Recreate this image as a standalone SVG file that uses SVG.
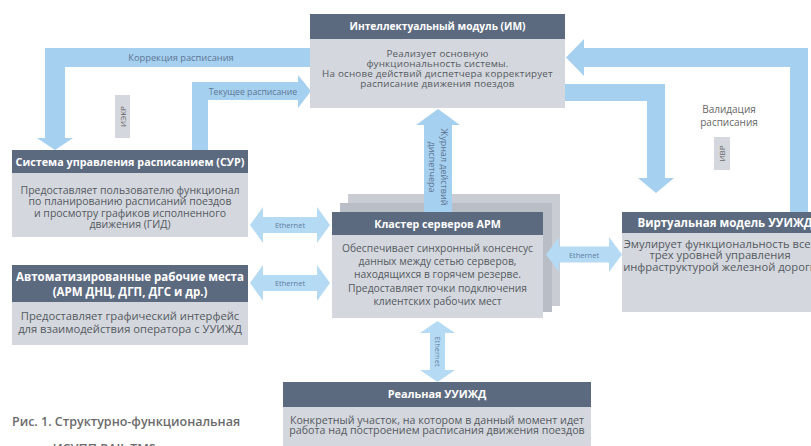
<svg xmlns="http://www.w3.org/2000/svg" width="811" height="446" viewBox="0 0 811 446">
<style>
.hdr{fill:#5c6a7f}
.bd{fill:#d4d7dd}
.ht{font-family:'Open Sans','Noto Sans',sans-serif;font-weight:bold;font-size:10.8px;fill:#fff;text-anchor:middle}
.bt{font-family:'Open Sans','Noto Sans',sans-serif;font-size:10.5px;fill:#555a61;text-anchor:middle}
.arr{fill:#a6d0ef}
.eth{fill:#b5daf3}
.lbl{font-family:'Open Sans','Noto Sans',sans-serif;font-size:9px;fill:#5d7593;text-anchor:middle}
.elbl{font-family:'Open Sans','Noto Sans',sans-serif;font-size:7.5px;fill:#5d7ea3;text-anchor:middle}
.tag{fill:#d4d7dd}
.tagt{font-family:'Open Sans','Noto Sans',sans-serif;font-size:8px;fill:#666;text-anchor:middle}
.cap{font-family:'Open Sans','Noto Sans',sans-serif;font-weight:600;font-size:12.5px;fill:#6b6b6b}
.imt{font-size:9.8px;letter-spacing:0.2px}
</style>
<rect width="811" height="446" fill="#fff"/>
<g id="cluster">
  <rect x="348" y="194" width="212" height="112" fill="#c9ccd2"/>
  <rect x="340" y="203" width="212" height="109" fill="#b9bdc5"/>
  <rect class="bd" x="332" y="235" width="211" height="83"/>
  <rect class="hdr" x="332" y="212" width="211" height="23"/>
  <text class="ht" x="437.5" y="227.5" style="font-size:10.7px">Кластер серверов АРМ</text>
  <text class="bt" x="437.5" y="251.5" style="font-size:10.3px">Обеспечивает синхронный консенсус</text>
  <text class="bt" x="437.5" y="265" style="font-size:10.3px">данных между сетью серверов,</text>
  <text class="bt" x="437.5" y="278" style="font-size:10.3px">находящихся в горячем резерве.</text>
  <text class="bt" x="437.5" y="291.5" style="font-size:10.3px">Предоставляет точки подключения</text>
  <text class="bt" x="437.5" y="305" style="font-size:10.3px">клиентских рабочих мест</text>
</g>
<g id="connectors">
  <path class="arr" d="M310 48 H45 V138 H37 L55 150 L73 138 H65 V67 H310 Z"/>
  <path class="arr" d="M192 150 V82 H298 V75 L311 91 L298 108 V100 H208 V150 Z"/>
  <path class="arr" d="M790 212 V67 H584 V76 L566 57.5 L584 39 V48 H808 V212 Z"/>
  <path class="arr" d="M565 84 H665 V178 H674 L656 193 L638 178 H647 V101 H565 Z"/>
  <polygon class="arr" points="438,109 460,125 452,125 452,212 424,212 424,125 416,125"/>
  <polygon class="eth" points="250,225 263,207 263,217 317,217 317,207 330,225 317,243 317,233 263,233 263,243"/>
  <polygon class="eth" points="250,283 263,265 263,275 317,275 317,265 330,283 317,301 317,291 263,291 263,301"/>
  <polygon class="eth" points="546,254.5 559,237 559,246.5 609,246.5 609,237 622,254.5 609,272 609,262.5 559,262.5 559,272"/>
  <polygon class="eth" points="437.5,321 455,333 445,333 445,370 455,370 437.5,382 420,370 430,370 430,333 420,333"/>
  <text class="lbl" x="181" y="61" style="font-size:9.3px">Коррекция расписания</text>
  <text class="lbl" x="253" y="94.5" style="font-size:8.7px">Текущее расписание</text>
  <text class="lbl" transform="translate(441,167) rotate(90)">Журнал действий</text>
  <text class="lbl" transform="translate(429,167) rotate(90)">диспетчера</text>
  <text class="elbl" x="290" y="228">Ethernet</text>
  <text class="elbl" x="290" y="286">Ethernet</text>
  <text class="elbl" x="584" y="257.5">Ethernet</text>
  <text class="elbl" transform="translate(434.5,351.5) rotate(90)">Ethernet</text>
  <rect class="tag" x="115" y="95" width="15" height="43"/>
  <text class="tagt" transform="translate(125.5,116.5) rotate(-90)">ИЭКР</text>
  <text class="tagt" x="729" y="113" style="font-size:10px">Валидация</text>
  <text class="tagt" x="729" y="126" style="font-size:10px">расписания</text>
  <rect class="tag" x="714" y="137" width="16" height="33"/>
  <text class="tagt" transform="translate(725,153.5) rotate(-90)">ИВР</text>
</g>
<g id="im">
  <rect class="bd" x="310" y="39" width="255" height="69"/>
  <rect class="hdr" x="310" y="14" width="255" height="25"/>
  <text class="ht" x="437.5" y="30" style="font-size:10.2px">Интеллектуальный модуль (ИМ)</text>
  <text class="bt imt" x="437.5" y="56.5">Реализует основную</text>
  <text class="bt imt" x="437.5" y="66.5">функциональность системы.</text>
  <text class="bt imt" x="437.5" y="76.5">На основе действий диспетчера корректирует</text>
  <text class="bt imt" x="437.5" y="86.5">расписание движения поездов</text>
</g>
<g id="sur">
  <rect class="bd" x="12" y="173" width="236" height="64"/>
  <rect class="hdr" x="12" y="150" width="236" height="23"/>
  <text class="ht" x="130" y="165.5">Система управления расписанием (СУР)</text>
  <text class="bt" x="130" y="193.5">Предоставляет пользователю функционал</text>
  <text class="bt" x="130" y="205">по планированию расписаний поездов</text>
  <text class="bt" x="130" y="216.5">и просмотру графиков исполненного</text>
  <text class="bt" x="130" y="228">движения (ГИД)</text>
</g>
<g id="arm">
  <rect class="bd" x="12" y="302" width="236" height="43"/>
  <rect class="hdr" x="12" y="265" width="236" height="37"/>
  <text class="ht" x="130" y="280.5" style="font-size:11.5px">Автоматизированные рабочие места</text>
  <text class="ht" x="130" y="296" style="font-size:11.5px">(АРМ ДНЦ, ДГП, ДГС и др.)</text>
  <text class="bt" x="130" y="320" style="font-size:11.2px">Предоставляет графический интерфейс</text>
  <text class="bt" x="130" y="333" style="font-size:11.2px">для взаимодействия оператора с УУИЖД</text>
</g>
<g id="vm">
  <rect class="bd" x="622" y="233" width="210" height="79"/>
  <rect class="hdr" x="622" y="212" width="210" height="21"/>
  <text class="ht" x="725" y="226.5" style="font-size:11.5px">Виртуальная модель УУИЖД</text>
  <text class="bt" x="720" y="247.5" style="font-size:11.2px">Эмулирует функциональность всех</text>
  <text class="bt" x="720" y="259" style="font-size:11.2px">трех уровней управления</text>
  <text class="bt" x="720" y="270.5" style="font-size:11.2px">инфраструктурой железной дороги</text>
</g>
<g id="real">
  <rect class="bd" x="283" y="407" width="308" height="45"/>
  <rect class="hdr" x="283" y="382" width="308" height="25"/>
  <text class="ht" x="437" y="398" style="font-size:10.9px">Реальная УУИЖД</text>
  <text class="bt" x="437" y="423.5" style="font-size:10.7px">Конкретный участок, на котором в данный момент идет</text>
  <text class="bt" x="437" y="434" style="font-size:10.7px">работа над построением расписания движения поездов</text>
</g>
<g id="caption">
  <text class="cap" x="12" y="426">Рис. 1. Структурно-функциональная</text>
  <text class="cap" x="12" y="453">схема ИСУПП RAIL TMS</text>
</g>
</svg>
